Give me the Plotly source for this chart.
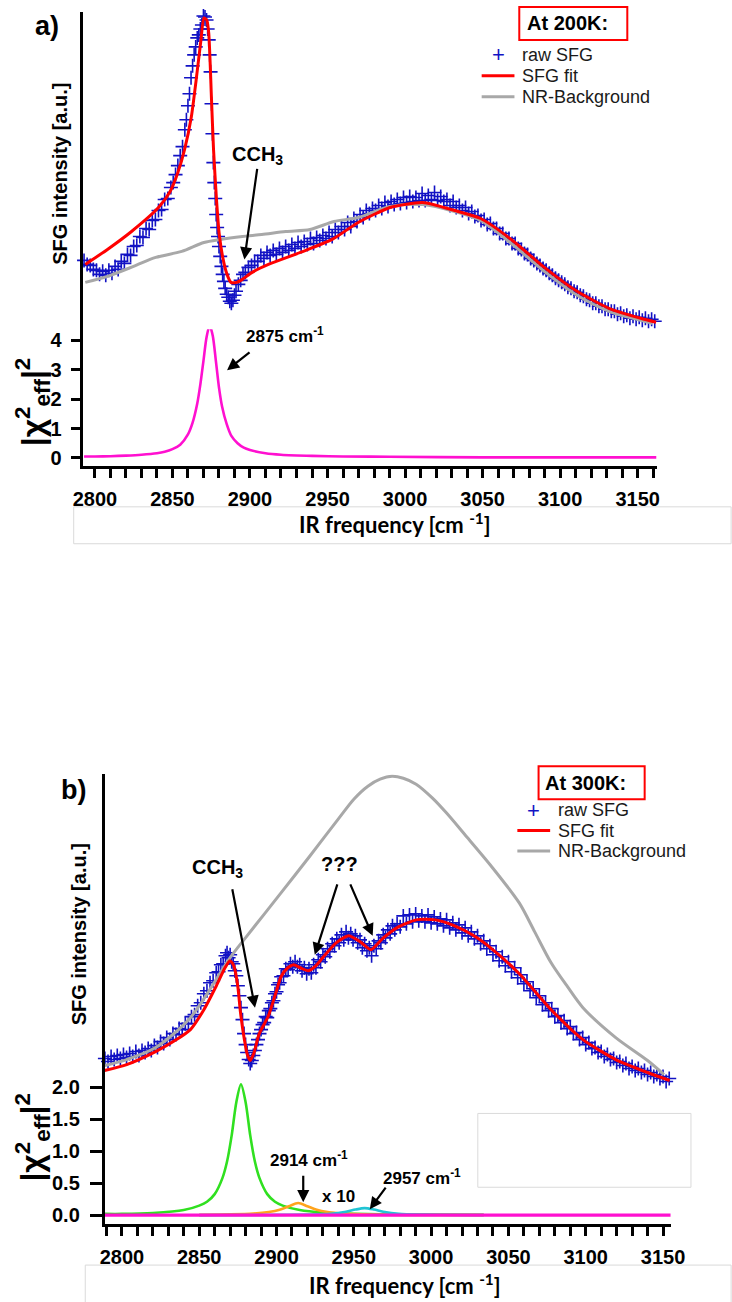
import plotly.graph_objects as go

W, H = 732, 1302


def PX(x):
    return x / W


def PY(y):
    return 1 - y / H


# ---------------- Panel a (200 K) ----------------
raw_a_nu = [2793, 2795, 2797, 2799, 2801, 2803, 2805, 2807, 2809, 2811, 2813, 2815, 2817, 2819, 2821, 2823,
            2825, 2827, 2829, 2831, 2833, 2835, 2837, 2839, 2841, 2843, 2845, 2847, 2849, 2850.5, 2852, 2853.5,
            2855, 2856.5, 2858, 2859, 2860, 2861, 2862, 2863, 2864, 2865, 2866, 2867, 2868, 2869, 2870, 2871,
            2872, 2872.7, 2873.4, 2874.0, 2874.6, 2875.2, 2875.8, 2876.4, 2877.0, 2877.6, 2878.2, 2878.8, 2879.4,
            2880.0, 2880.8, 2881.6, 2882.4, 2883.2, 2884.0, 2885, 2886, 2887, 2888, 2889, 2890, 2891, 2892.5,
            2894, 2895.5, 2897, 2899, 2901, 2903, 2905, 2907, 2909, 2911, 2913, 2915, 2917, 2919, 2921, 2923,
            2925, 2927, 2929, 2931, 2933, 2935, 2937, 2939, 2941, 2943, 2945, 2947, 2949, 2951, 2953, 2955,
            2957, 2959, 2961, 2963, 2965, 2967, 2969, 2971, 2973, 2975, 2977, 2979, 2981, 2983, 2985, 2987,
            2989, 2991, 2993, 2995, 2997, 2999, 3001, 3003, 3005, 3007, 3009, 3011, 3013, 3015, 3017, 3019,
            3021, 3023, 3025, 3027, 3029, 3031, 3033, 3035, 3037, 3039, 3041, 3043, 3045, 3047, 3049, 3051,
            3053, 3055, 3057, 3059, 3061, 3063, 3065, 3067, 3069, 3071, 3073, 3075, 3077, 3079, 3081, 3083,
            3085, 3087, 3089, 3091, 3093, 3095, 3097, 3099, 3101, 3103, 3105, 3107, 3109, 3111, 3113, 3115,
            3117, 3119, 3121, 3123, 3125, 3127, 3129, 3131, 3133, 3135, 3137, 3139, 3141, 3143, 3145, 3147,
            3149, 3151, 3153, 3155, 3157, 3159, 3161]
raw_a_int = [21.9, 21.5, 21.4, 21.0, 20.9, 20.5, 20.8, 20.4, 20.9, 20.6, 21.3, 21.0, 21.8, 21.6, 22.5, 22.4,
             23.3, 23.4, 24.3, 24.2, 25.1, 25.0, 25.9, 26.0, 26.9, 27.0, 28.0, 28.1, 29.2, 29.7, 30.5, 31.4,
             32.4, 33.3, 35.0, 36.0, 37.4, 38.6, 40.2, 41.4, 42.5, 43.3, 44.2, 44.5, 45.1, 45.5, 46.4, 46.3,
             46.0, 45.1, 44.0, 42.5, 40.8, 37.6, 34.6, 31.7, 29.7, 28.1, 26.5, 25.2, 24.3,
             23.3, 22.3, 21.3, 20.5, 19.8, 19.1, 18.5, 18.2, 17.8, 17.6, 17.9, 18.4, 18.8, 19.5,
             19.9, 20.5, 20.7, 21.2, 21.4, 21.8, 21.8, 22.4, 22.1, 22.7, 22.4, 22.9, 22.5, 23.1, 22.7, 23.3,
             22.9, 23.5, 23.1, 23.7, 23.3, 23.8, 23.5, 24.1, 23.6, 24.2, 23.9, 24.4, 24.1, 24.7, 24.3, 25.0,
             24.7, 25.3, 25.0, 25.7, 25.3, 26.1, 25.8, 26.5, 26.2, 26.9, 26.6, 27.1, 26.9, 27.4, 27.1, 27.7,
             27.3, 27.8, 27.5, 28.0, 27.6, 28.2, 27.7, 28.3, 27.8, 28.2, 27.9, 28.6, 27.9, 28.4, 28.0, 28.7,
             27.9, 28.3, 27.8, 28.0, 27.4, 27.8, 27.2, 27.4, 26.9, 27.2, 26.6, 26.8, 26.3, 26.4, 25.9, 26.0,
             25.5, 25.6, 25.1, 25.1, 24.6, 24.6, 24.1, 24.1, 23.6, 23.6, 23.1, 23.0, 22.6, 22.5, 22.1, 21.9,
             21.6, 21.4, 21.1, 20.9, 20.6, 20.4, 20.1, 19.9, 19.7, 19.5, 19.2, 19.1, 18.8, 18.7, 18.4, 18.3,
             18.0, 17.9, 17.6, 17.6, 17.3, 17.3, 17.0, 17.0, 16.8, 16.8, 16.5, 16.6, 16.3, 16.4, 16.1, 16.3,
             16.0, 16.2, 15.9, 16.1, 15.8, 16.0, 15.8]

fit_a_nu = [2793.8, 2808.1, 2823.6, 2841.0, 2848.5, 2853.5, 2857.8, 2862.2, 2865.3, 2868.4, 2870.3, 2872.1,
            2873.4, 2875.2, 2876.5, 2878.4, 2880.2, 2882.7, 2885.2, 2887.7, 2891.4, 2895.1, 2901.4, 2911.9,
            2932.5, 2953.0, 2969.8, 2990.3, 3011.4, 3032.0, 3048.8, 3069.3, 3089.8, 3110.9, 3131.5, 3152.0,
            3161.9]
fit_a_int = [21.5, 23.0, 24.8, 27.2, 28.8, 30.7, 33.0, 36.3, 40.0, 44.0, 46.2, 46.0,
             44.7, 38.0, 33.0, 28.0, 24.5, 22.0, 20.5, 19.7, 19.7, 20.0, 20.7, 21.5,
             22.7, 24.0, 25.7, 27.2, 27.7, 26.9, 26.1, 23.9, 21.2, 18.8, 17.1, 16.1,
             15.7]

bg_a_nu = [2793.8, 2808.1, 2824.9, 2839.2, 2856.0, 2870.3, 2880.8, 2895.1, 2907.6, 2923.1, 2938.7, 2954.2,
           2969.8, 2990.3, 3011.4, 3032.0, 3048.8, 3069.3, 3089.8, 3110.9, 3131.5, 3152.0, 3159.5]
bg_a_int = [19.7, 20.3, 21.3, 22.2, 22.8, 23.7, 24.0, 24.3, 24.5, 24.8, 25.0, 25.8,
            26.2, 27.3, 27.5, 26.8, 25.9, 23.5, 20.8, 18.4, 16.8, 15.9, 15.6]

chi_a_nu = [2793, 2800, 2810, 2820, 2830, 2840, 2845, 2850, 2855, 2860, 2863, 2866, 2868, 2870, 2872, 2874,
            2876, 2878, 2880, 2882, 2885, 2888, 2892, 2896, 2900, 2910, 2920, 2940, 2960, 2990, 3050, 3100,
            3162]
chi_a_val = [0.05, 0.05, 0.06, 0.08, 0.11, 0.16, 0.21, 0.30, 0.45, 0.80, 1.20, 1.85, 2.50, 3.30, 4.10, 4.50,
             4.15, 3.30, 2.40, 1.75, 1.15, 0.75, 0.50, 0.35, 0.27, 0.16, 0.11, 0.07, 0.05, 0.04, 0.02, 0.02,
             0.02]

# ---------------- Panel b (300 K) ----------------
raw_b_nu = [2789, 2791, 2793, 2795, 2797, 2799, 2801, 2803, 2805, 2807, 2809, 2811, 2813, 2815, 2817, 2819,
            2821, 2823, 2825, 2827, 2829, 2831, 2833, 2835, 2837, 2839, 2841, 2843, 2845, 2847, 2849, 2851,
            2853, 2855, 2857, 2859, 2861, 2862.5, 2864, 2865.5, 2867, 2868, 2869, 2870, 2871, 2872, 2873, 2874,
            2875, 2876, 2877, 2878, 2879, 2880, 2881, 2882, 2883, 2884, 2885, 2886, 2887, 2888, 2889, 2890,
            2891, 2892, 2893, 2894, 2895, 2896, 2897, 2898, 2899, 2900, 2901, 2902, 2903, 2904.5, 2906, 2907.5,
            2909, 2910.5, 2912, 2913.5, 2915, 2916.5, 2918, 2919.5, 2921, 2922.5, 2924, 2925.5, 2927, 2928.5,
            2930, 2931.5, 2933, 2934.5, 2936, 2937.5, 2939, 2940.5, 2942, 2943.5, 2945, 2946.5, 2948, 2949.5,
            2951, 2952.5, 2954, 2955.5, 2957, 2958.5, 2960, 2961.5, 2963, 2964.5, 2966, 2967.5, 2969, 2970.5,
            2972, 2973.5, 2975, 2976.5, 2978, 2980, 2982, 2984, 2986, 2988, 2990, 2992, 2994, 2996, 2998, 3000,
            3002, 3004, 3006, 3008, 3010, 3012, 3014, 3016, 3018, 3020, 3022, 3024, 3026, 3028, 3030, 3032,
            3034, 3036, 3038, 3040, 3042, 3044, 3046, 3048, 3050, 3052, 3054, 3056, 3058, 3060, 3062, 3064,
            3066, 3068, 3070, 3072, 3074, 3076, 3078, 3080, 3082, 3084, 3086, 3088, 3090, 3092, 3094, 3096,
            3098, 3100, 3102, 3104, 3106, 3108, 3110, 3112, 3114, 3116, 3118, 3120, 3122, 3124, 3126, 3128,
            3130, 3132, 3134, 3136, 3138, 3140, 3142, 3144, 3146, 3148, 3150, 3152, 3154]
raw_b_int = [3.9, 3.6, 4.1, 3.8, 4.2, 3.9, 4.3, 4.0, 4.4, 4.1, 4.6, 4.2, 4.7, 4.5, 4.9, 4.7,
             5.2, 5.0, 5.6, 5.4, 6.0, 5.8, 6.4, 6.3, 6.9, 6.8, 7.4, 7.4, 8.1, 8.3, 9.2, 9.5,
             10.4, 10.7, 11.5, 11.7, 12.5, 12.6, 13.3, 13.4, 14.2, 14.5, 14.0, 14.3, 13.6, 13.4, 12.7, 12.2,
             11.2, 10.2, 9.0, 7.8, 6.4, 5.3, 4.5, 3.8, 3.4, 3.7, 4.2, 4.7, 5.3, 5.8, 6.4, 6.8,
             7.3, 7.5, 8.1, 8.0, 8.7, 8.9, 9.5, 9.7, 10.4, 10.6, 11.3, 11.5, 12.1, 12.2, 12.9, 12.8,
             13.4, 13.1, 13.6, 13.1, 13.3, 12.7, 13.0, 12.4, 12.9, 12.5, 13.3, 13.0, 13.8, 13.6,
             14.3, 14.1, 14.9, 14.6, 15.4, 15.2, 15.9, 15.5, 16.3, 15.8, 16.6, 16.0, 16.4, 15.8,
             16.2, 15.5, 15.8, 15.0, 15.4, 14.7, 15.0, 14.2, 15.2, 14.9, 15.7, 15.5, 16.3, 16.0,
             16.8, 16.4, 17.2, 16.8, 17.4, 17.1, 18.2, 17.4, 18.3, 17.6, 18.4, 17.7, 18.2, 17.6, 18.3, 17.5,
             18.1, 17.4, 17.9, 17.2, 17.8, 17.0, 17.5, 16.8, 17.3, 16.5, 17.0, 16.2, 16.6, 15.9, 16.2, 15.4,
             15.7, 14.9, 15.2, 14.3, 14.6, 13.7, 14.1, 13.2, 13.6, 12.6, 13.0, 12.0, 12.3, 11.4, 11.6, 10.7,
             10.9, 10.0, 10.2, 9.3, 9.5, 8.7, 8.9, 8.1, 8.2, 7.5, 7.7, 6.9, 7.1, 6.4, 6.5, 5.8,
             6.0, 5.3, 5.5, 4.9, 5.0, 4.5, 4.6, 4.1, 4.3, 3.8, 3.9, 3.5, 3.6, 3.2, 3.4, 2.9,
             3.1, 2.7, 2.9, 2.5, 2.7, 2.3, 2.5, 2.1, 2.3, 1.9, 2.1, 1.6, 1.9]

fit_b_nu = [2788.8, 2803.1, 2821.8, 2834.3, 2844.3, 2853.0, 2861.1, 2866.7, 2869.9, 2872.4, 2874.9, 2876.7,
            2879.2, 2881.1, 2883.0, 2885.5, 2888.6, 2894.8, 2899.8, 2902.9, 2907.3, 2911.0, 2915.4, 2920.4,
            2925.4, 2929.8, 2938.5, 2946.6, 2954.1, 2961.0, 2968.4, 2977.8, 2990.3, 3002.7, 3015.2, 3027.7,
            3040.0, 3057.0, 3077.6, 3098.2, 3119.4, 3140.0, 3154.3]
fit_b_int = [2.7, 3.3, 4.6, 5.7, 6.8, 8.8, 11.2, 13.0, 13.7, 13.2, 11.2, 8.5,
             5.8, 4.3, 3.7, 4.5, 6.3, 8.2, 10.6, 12.1, 13.0, 13.3, 13.0, 12.7,
             13.2, 14.0, 15.5, 16.2, 15.6, 14.8, 15.9, 17.0, 17.8, 17.8, 17.2, 16.2,
             14.8, 12.4, 8.8, 5.8, 3.8, 2.5, 1.7]

bg_b_nu = [2788.8, 2803.1, 2821.8, 2844.3, 2869.9, 2879.9, 2902.9, 2921.6, 2940.4, 2950.0, 2959.1, 2967.0,
           2974.7, 2982.0, 2990.3, 3000.9, 3010.0, 3021.5, 3038.3, 3057.0, 3067.0, 3077.6, 3088.2, 3098.2,
           3119.4, 3140.0, 3150.6]
bg_b_int = [3.2, 3.8, 5.0, 8.0, 14.0, 16.0, 20.5, 24.2, 28.0, 29.9, 31.2, 31.9,
            32.2, 32.0, 31.4, 30.0, 28.5, 26.4, 23.3, 19.5, 16.6, 13.5, 11.1, 9.0,
            6.0, 3.7, 2.3]

chi_b_green_nu = [2789, 2800, 2820, 2840, 2850, 2855, 2860, 2865, 2868, 2871, 2874, 2877, 2880, 2883, 2886,
                  2889, 2894, 2899, 2904, 2915, 2930, 2950, 2980, 3034]
chi_b_green = [0.02, 0.02, 0.035, 0.08, 0.15, 0.21, 0.33, 0.58, 0.84, 1.25, 1.77, 2.05, 1.77, 1.25, 0.84,
               0.58, 0.33, 0.21, 0.15, 0.08, 0.04, 0.02, 0.01, 0.005]
chi_b_orange_nu = [2850, 2870, 2885, 2895, 2902, 2908, 2914, 2920, 2926, 2933, 2943, 2960, 2990, 3034]
chi_b_orange = [0.005, 0.012, 0.025, 0.05, 0.085, 0.14, 0.19, 0.14, 0.085, 0.05, 0.025, 0.01, 0.005, 0.003]
chi_b_cyan_nu = [2850, 2900, 2920, 2935, 2945, 2951, 2957, 2963, 2969, 2979, 2995, 3034]
chi_b_cyan = [0.001, 0.005, 0.01, 0.022, 0.055, 0.088, 0.11, 0.088, 0.055, 0.022, 0.01, 0.003]
chi_b_magenta_nu = [2789, 2900, 3000, 3100, 3155]
chi_b_magenta = [0.0, 0.0, 0.0, 0.0, 0.0]

x_tick0, x_dtick, x_minor = 2800, 50, 10
chi_a_ticks = [0, 1, 2, 3, 4]
chi_b_ticks = [0.0, 0.5, 1.0, 1.5, 2.0]
chi_b_ticktext = ["0.0", "0.5", "1.0", "1.5", "2.0"]
legend_labels = ["raw SFG", "SFG fit", "NR-Background"]

BLUE = "#1212c4"
RED = "#ff0000"
GREY = "#a8a8a8"
MAGENTA = "#ff10d0"
GREEN = "#30e020"
ORANGE = "#ffa41c"
CYAN = "#20c4d4"

fig = go.Figure()


def add_panel(xa, ya_up, nu_raw, i_raw, nu_fit, i_fit, nu_bg, i_bg):
    fig.add_trace(go.Scatter(x=nu_raw, y=i_raw, mode="markers", name=legend_labels[0], xaxis=xa, yaxis=ya_up,
                             showlegend=False, cliponaxis=False,
                             marker=dict(symbol="cross-thin", size=10, color=BLUE,
                                         line=dict(width=1.6, color=BLUE))))
    fig.add_trace(go.Scatter(x=nu_bg, y=i_bg, mode="lines", name=legend_labels[2], xaxis=xa, yaxis=ya_up,
                             showlegend=False,
                             line=dict(color=GREY, width=3, shape="spline", smoothing=0.8)))
    fig.add_trace(go.Scatter(x=nu_fit, y=i_fit, mode="lines", name=legend_labels[1], xaxis=xa, yaxis=ya_up,
                             showlegend=False,
                             line=dict(color=RED, width=3, shape="spline", smoothing=0.6)))


add_panel("x", "y", raw_a_nu, raw_a_int, fit_a_nu, fit_a_int, bg_a_nu, bg_a_int)
fig.add_trace(go.Scatter(x=chi_a_nu, y=chi_a_val, mode="lines", xaxis="x", yaxis="y2", showlegend=False,
                         line=dict(color=MAGENTA, width=2.6, shape="spline", smoothing=0.8)))

add_panel("x2", "y3", raw_b_nu, raw_b_int, fit_b_nu, fit_b_int, bg_b_nu, bg_b_int)
for nu, val, col, lw in [(chi_b_green_nu, chi_b_green, GREEN, 2.6),
                         (chi_b_orange_nu, chi_b_orange, ORANGE, 2.6),
                         (chi_b_cyan_nu, chi_b_cyan, CYAN, 2.6),
                         (chi_b_magenta_nu, chi_b_magenta, MAGENTA, 3.2)]:
    fig.add_trace(go.Scatter(x=nu, y=val, mode="lines", xaxis="x2", yaxis="y4", showlegend=False,
                             line=dict(color=col, width=lw, shape="spline", smoothing=0.8)))

TICKFONT = dict(family="Arial", size=20, color="black", weight="bold")


def xaxis_cfg(d0, d1, r0, r1, anchor):
    return dict(domain=[PX(d0), PX(d1)], range=[r0, r1], anchor=anchor,
                showline=True, linecolor="black", linewidth=3, mirror=False,
                ticks="outside", ticklen=9, tickwidth=2.5, tickcolor="black",
                tick0=x_tick0, dtick=x_dtick, tickfont=TICKFONT, ticklabelstandoff=4,
                minor=dict(ticks="outside", dtick=x_minor, tick0=x_tick0, ticklen=9, tickwidth=2.5,
                           tickcolor="black", showgrid=False),
                showgrid=False, zeroline=False)


def yup_cfg(p0, p1, r0, r1, anchor):
    return dict(domain=[PY(p0), PY(p1)], range=[r0, r1], anchor=anchor, showline=True,
                linecolor="black", linewidth=2.5, ticks="", showticklabels=False,
                showgrid=False, zeroline=False)


def ylow_cfg(p0, p1, r0, r1, anchor, tv, tt, ticklen, standoff):
    return dict(domain=[PY(p0), PY(p1)], range=[r0, r1], anchor=anchor, showline=True,
                linecolor="black", linewidth=2.5, ticks="outside", ticklen=ticklen, tickwidth=2.5,
                tickcolor="black", tickvals=tv, ticktext=tt, tickfont=TICKFONT, ticklabelstandoff=standoff,
                showgrid=False, zeroline=False)


fig.update_layout(
    width=W, height=H, margin=dict(l=0, r=0, t=0, b=0),
    paper_bgcolor="white", plot_bgcolor="rgba(0,0,0,0)",
    font=dict(family="Arial", color="black"), showlegend=False,
    xaxis=xaxis_cfg(75, 670, 2792.54, 3162.6, "y2"),
    yaxis=yup_cfg(467, 12, 1.3, 46.8, "x"),
    yaxis2=ylow_cfg(467, 330, -0.271, 4.373, "x", chi_a_ticks, [str(v) for v in chi_a_ticks], 10, 5),
    xaxis2=xaxis_cfg(97, 684, 2788.77, 3154.96, "y4"),
    yaxis3=yup_cfg(1227, 776, -12.7, 32.4, "x2"),
    yaxis4=ylow_cfg(1227, 1075, -0.1406, 2.234, "x2", chi_b_ticks, chi_b_ticktext, 12, 6),
)

shapes = [
    dict(type="rect", xref="paper", yref="paper", x0=PX(65), x1=1.02, y0=PY(545), y1=PY(508),
         line=dict(color="#dadada", width=1)),
    dict(type="rect", xref="paper", yref="paper", x0=PX(77), x1=1.02, y0=PY(1312), y1=PY(1268),
         line=dict(color="#dadada", width=1)),
    dict(type="rect", xref="paper", yref="paper", x0=PX(484), x1=PX(705), y0=PY(1190), y1=PY(1116),
         line=dict(color="#dadada", width=1)),
]

ann = []


def text(x, y, t, size, bold=True, angle=0, family="Arial", color="black", xanchor="center"):
    ann.append(dict(xref="paper", yref="paper", x=PX(x), y=PY(y), text=t, showarrow=False,
                    textangle=angle, xanchor=xanchor, yanchor="middle",
                    font=dict(family=family, size=size, color=color, weight="bold" if bold else "normal")))


def arrow(hx, hy, tx, ty):
    ann.append(dict(xref="paper", yref="paper", x=PX(hx), y=PY(hy), ax=tx - hx, ay=ty - hy,
                    axref="pixel", ayref="pixel", text="", showarrow=True, arrowhead=2,
                    arrowsize=1.1, arrowwidth=2.2, arrowcolor="black"))


def boxed(x0, y0, x1, y1, tx, t):
    shapes.append(dict(type="rect", xref="paper", yref="paper", x0=PX(x0), x1=PX(x1), y0=PY(y1), y1=PY(y0),
                       line=dict(color="#ff0000", width=2)))
    text(tx, (y0 + y1) / 2, t, 20)


def legend_block(gx, tx, y0, dy):
    # marker glyph, line glyphs and labels of the manual legend
    text(gx, y0, "+", 22, bold=False, color=BLUE)
    for k, col in [(1, RED), (2, GREY)]:
        shapes.append(dict(type="line", xref="paper", yref="paper", x0=PX(gx - 17), x1=PX(gx + 17),
                           y0=PY(y0 + k * dy), y1=PY(y0 + k * dy), line=dict(color=col, width=3)))
    for k, lab in enumerate(legend_labels):
        text(tx, y0 + k * dy, lab, 18, bold=False, color="#1a1a1a", xanchor="left")


# panel a
text(37, 26, "a)", 27)
text(50, 174, "SFG intensity [a.u.]", 20, angle=-90)
text(22, 403, "|χ<sup>2</sup><sub>eff</sub>|<sup>2</sup>", 32, angle=-90)
text(398, 525, "IR frequency [cm <sup>-1</sup>]", 22, bold=True, family="Lato")
text(256, 156, "CCH<sub>3</sub>", 20)
arrow(242, 260, 255, 168)
text(284, 336, "2875 cm<sup>-1</sup>", 17)
arrow(224, 371, 248, 352)
boxed(527, 7, 639, 40, 577, "At 200K:")
legend_block(505, 528, 55, 21)

# panel b
text(65, 792, "b)", 27)
text(70, 937, "SFG intensity [a.u.]", 20, angle=-90)
text(22, 1140, "|χ<sup>2</sup><sub>eff</sub>|<sup>2</sup>", 32, angle=-90)
text(408, 1287, "IR frequency [cm <sup>-1</sup>]", 22, bold=True, family="Lato")
text(214, 871, "CCH<sub>3</sub>", 20)
arrow(253, 1010, 230, 890)
text(341, 866, "???", 20)
arrow(315, 957, 338, 885)
arrow(375, 938, 352, 885)
text(309, 1162, "2914 cm<sup>-1</sup>", 17)
arrow(303, 1205, 303, 1177)
text(340, 1199, "x 10", 17)
text(426, 1180, "2957 cm<sup>-1</sup>", 17)
arrow(372, 1212, 389, 1189)
boxed(547, 768, 657, 801, 596, "At 300K:")
legend_block(542, 565, 812, 20.5)

fig.update_layout(shapes=shapes, annotations=ann)

fig.write_html("out.html", config={"displayModeBar": False},
               post_script="document.body.style.margin='0';document.body.style.overflow='hidden';")
